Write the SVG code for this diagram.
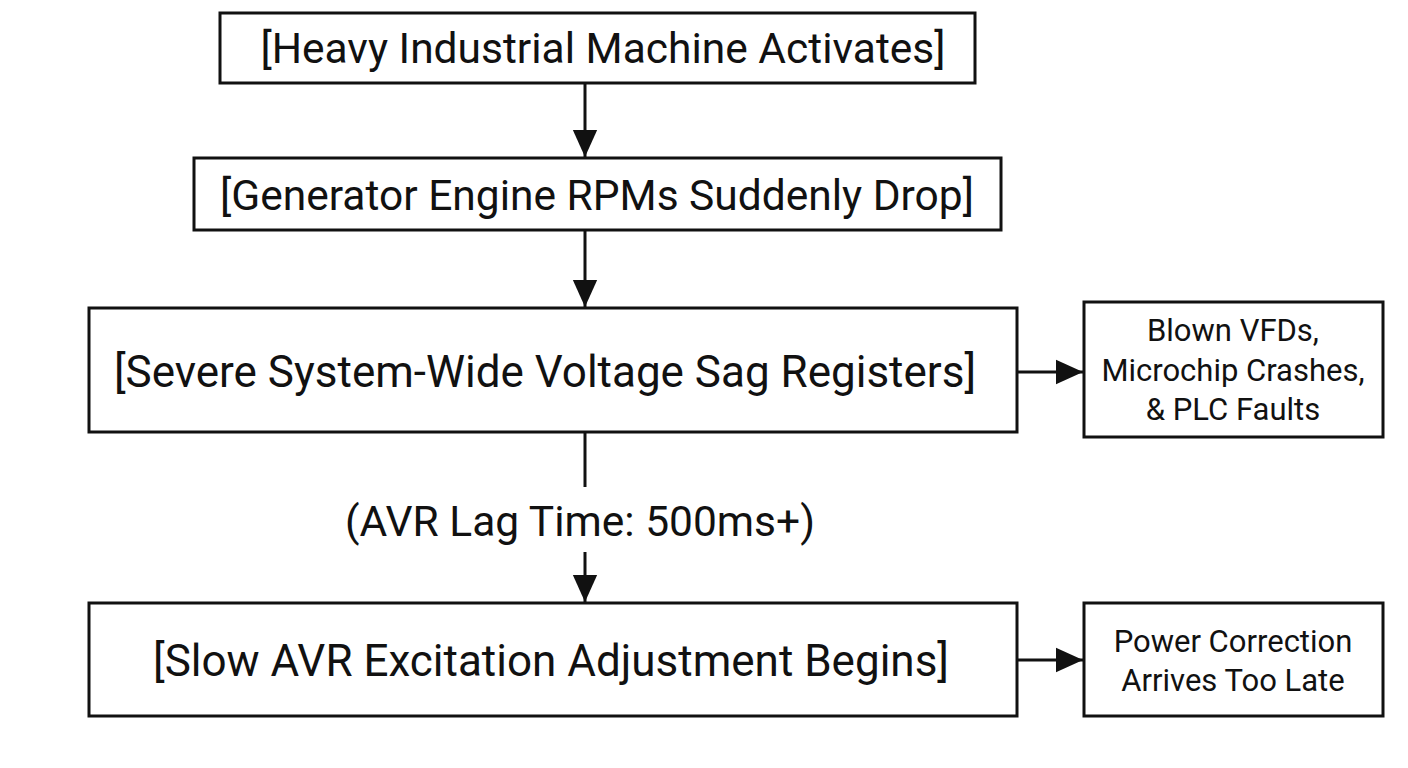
<svg xmlns="http://www.w3.org/2000/svg" width="1408" height="768" viewBox="0 0 1408 768">
<style>
.box{fill:#fff;stroke:#111;stroke-width:3}
.t{font-family:Roboto,"Liberation Sans",Arial,sans-serif;fill:#111;text-anchor:middle}
.big{font-size:42.5px}
.sm{font-size:31px}
.c{stroke:#111;stroke-width:3;fill:none}
</style>
<defs>
<marker id="a" viewBox="0 0 10 10" refX="10" refY="5" markerWidth="9" markerHeight="9" orient="auto"><path d="M0,0.5 L10,5 L0,9.5 Z" fill="#111"/></marker>
</defs>
<rect width="1408" height="768" fill="#fff"/>
<g id="connectors">
<line class="c" x1="585" y1="83" x2="585" y2="157" marker-end="url(#a)"/>
<line class="c" x1="585" y1="230" x2="585" y2="307" marker-end="url(#a)"/>
<line class="c" x1="585" y1="432" x2="585" y2="487"/>
<line class="c" x1="585" y1="552" x2="585" y2="602" marker-end="url(#a)"/>
<line class="c" x1="1017" y1="372" x2="1083" y2="372" marker-end="url(#a)"/>
<line class="c" x1="1017" y1="660" x2="1083" y2="660" marker-end="url(#a)"/>
<text class="t big" x="580" y="536">(AVR Lag Time: 500ms+)</text>
</g>
<g id="n1"><rect class="box" x="220" y="13" width="755" height="70"/><text class="t big" x="603" y="63">[Heavy Industrial Machine Activates]</text></g>
<g id="n2"><rect class="box" x="194" y="158" width="807" height="72"/><text class="t big" x="597" y="210">[Generator Engine RPMs Suddenly Drop]</text></g>
<g id="n3"><rect class="box" x="89" y="308" width="928" height="124"/><text class="t big" x="545" y="387" style="font-size:44px">[Severe System-Wide Voltage Sag Registers]</text></g>
<g id="n4"><rect class="box" x="89" y="603" width="928" height="113"/><text class="t big" x="551" y="676" style="font-size:44px">[Slow AVR Excitation Adjustment Begins]</text></g>
<g id="n5"><rect class="box" x="1084" y="302" width="299" height="135"/><text class="t sm" x="1233" y="341">Blown VFDs,</text><text class="t sm" x="1233" y="381">Microchip Crashes,</text><text class="t sm" x="1233" y="420">&amp; PLC Faults</text></g>
<g id="n6"><rect class="box" x="1084" y="603" width="299" height="113"/><text class="t sm" x="1233" y="652">Power Correction</text><text class="t sm" x="1233" y="691">Arrives Too Late</text></g>
</svg>
